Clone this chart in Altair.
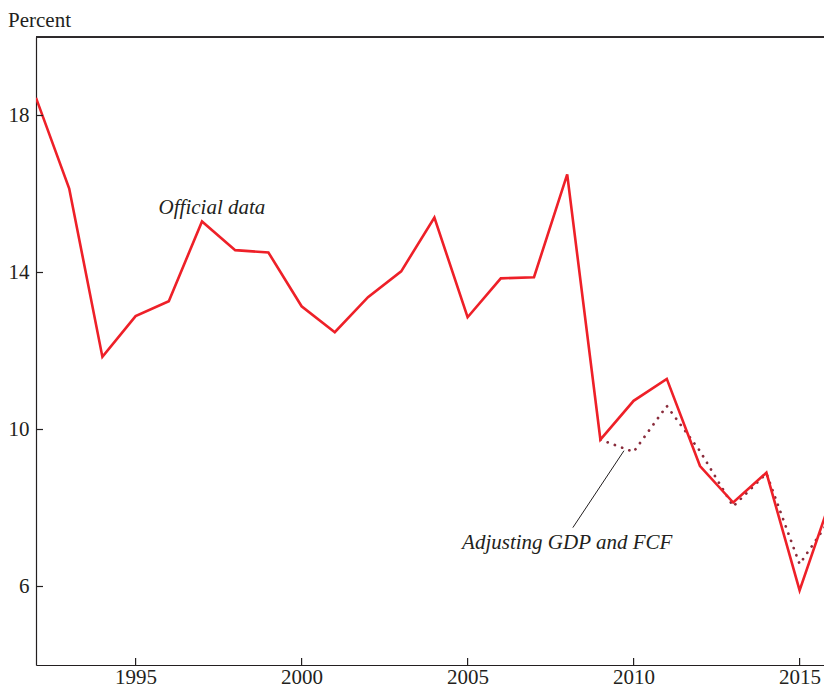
import altair as alt
import pandas as pd

years = list(range(1992, 2017))
official = [18.45, 16.14, 11.85, 12.89, 13.27, 15.30, 14.57, 14.51, 13.14, 12.48,
            13.37, 14.03, 15.40, 12.86, 13.85, 13.88, 16.50, 9.74, 10.73, 11.29,
            9.07, 8.14, 8.90, 5.90, 8.37]
adj_years = list(range(2009, 2017))
adjusted = [9.74, 9.43, 10.60, 9.45, 8.04, 8.88, 6.57, 7.81]

x_ticks = [1995, 2000, 2005, 2010, 2015]
y_ticks = [6, 10, 14, 18]

labels = ["Official data", "Adjusting GDP and FCF"]
label_x = [1997.3, 2008.0]
label_y = [15.5, 6.95]

leader_x = [2008.17, 2009.71]
leader_y = [7.50, 9.46]

FONT = "Liberation Serif"
RED = "#ee2028"
MAROON = "#8a2c3c"
INK = "#231f20"

df_off = pd.DataFrame({"year": years, "value": official})
df_adj = pd.DataFrame({"year": adj_years, "value": adjusted})
df_lab = pd.DataFrame({"text": labels, "x": label_x, "y": label_y})
df_lead = pd.DataFrame({"x": leader_x, "y": leader_y})
df_xt = pd.DataFrame({"v": x_ticks})
df_yt = pd.DataFrame({"v": y_ticks})

W, H = 788, 628

xscale = alt.Scale(domain=[1992, 2015.735], nice=False, zero=False)
yscale = alt.Scale(domain=[4, 20], nice=False, zero=False)

xaxis = alt.Axis(values=x_ticks, format="d", ticks=False, tickSize=0, grid=False,
                 labelPadding=1, title=None, labelFont=FONT, labelFontSize=21,
                 labelColor=INK, domainColor=INK, domainWidth=1.2)
yaxis = alt.Axis(values=y_ticks, ticks=False, tickSize=0, grid=False,
                 labelPadding=7, title=None, labelFont=FONT, labelFontSize=21,
                 labelColor=INK, domainColor=INK, domainWidth=1.2)

adj_line = alt.Chart(df_adj).mark_line(
    color=MAROON, strokeWidth=2.7, strokeDash=[0.1, 7.6], strokeCap="round", clip=True
).encode(
    x=alt.X("year:Q", scale=xscale, axis=xaxis),
    y=alt.Y("value:Q", scale=yscale, axis=yaxis),
)

off_line = alt.Chart(df_off).mark_line(color=RED, strokeWidth=2.6, clip=True).encode(
    x=alt.X("year:Q", scale=xscale),
    y=alt.Y("value:Q", scale=yscale),
)

lead = alt.Chart(df_lead).mark_line(color=INK, strokeWidth=1).encode(
    x=alt.X("x:Q", scale=xscale),
    y=alt.Y("y:Q", scale=yscale),
)

text = alt.Chart(df_lab).mark_text(
    font=FONT, fontSize=21, fontStyle="italic", color=INK, align="center", baseline="alphabetic"
).encode(
    x=alt.X("x:Q", scale=xscale),
    y=alt.Y("y:Q", scale=yscale),
    text="text:N",
)

xt = alt.Chart(df_xt).mark_rule(color=INK, strokeWidth=1.2).encode(
    x=alt.X("v:Q", scale=xscale),
    y=alt.value(H),
    y2=alt.value(H - 7),
)
yt = alt.Chart(df_yt).mark_rule(color=INK, strokeWidth=1.2).encode(
    y=alt.Y("v:Q", scale=yscale),
    x=alt.value(0),
    x2=alt.value(7),
)
top_border = alt.Chart(df_yt).mark_rule(color=INK, strokeWidth=1.2).encode(
    x=alt.value(0),
    x2=alt.value(W),
    y=alt.value(0),
)

chart = alt.layer(adj_line, off_line, lead, text, xt, yt, top_border).properties(
    width=W, height=H,
    autosize=alt.AutoSizeParams(type="none"),
    padding={"left": 28, "top": 29, "right": 0, "bottom": 23},
    title=alt.TitleParams("Percent", anchor="start", font=FONT, fontSize=21,
                          fontWeight="normal", color=INK, offset=5),
).configure_view(stroke=None).configure(background="white")

chart.save("out.html", embed_options={"renderer": "svg", "actions": False})
